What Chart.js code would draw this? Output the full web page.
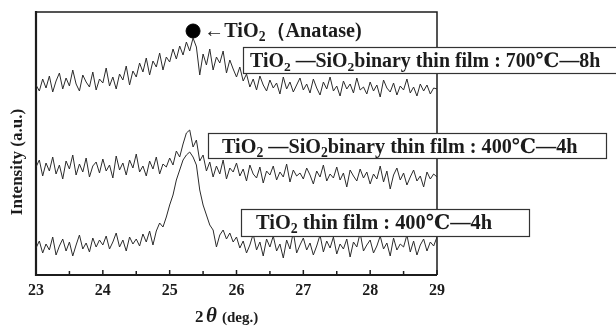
<!DOCTYPE html>
<html>
<head>
<meta charset="utf-8">
<script src="https://cdn.jsdelivr.net/npm/chart.js@4"></script>
<style>
  html, body { margin: 0; padding: 0; background: #fff; }
</style>
</head>
<body>
<canvas id="xrd" width="616" height="328"></canvas>
<script>
// 2theta grid: 23.00 .. 29.00, step 0.05 (121 points)
const xStart = 23;
const xStep = 0.05;
const xTicks = [23, 24, 25, 26, 27, 28, 29];
const xMinorTicks = [23.5, 24.5, 25.5, 26.5, 27.5, 28.5];

// TiO2-SiO2 binary thin film : 700C-8h
const film700 = [
  190,184,196,187,199,183,194,202,186,197,189,205,191,184,200,193,188,203,185,196,
  192,207,189,198,186,201,195,209,190,204,
  198,212,203,217,200,214,208,222,205,218,
  213,226,216,229,220,233,224,237,228,200,
  221,210,226,205,218,212,224,202,215,206,
  198,208,194,201,188,196,185,199,190,184,
  195,187,192,181,198,186,193,183,190,197,
  185,191,182,196,187,180,193,186,198,184,
  189,179,194,186,191,182,197,185,188,181,
  193,184,190,178,195,187,183,192,180,189,
  185,196,182,188,179,191,184,190,181,187,186
];

// TiO2-SiO2 binary thin film : 400C-4h
const film400 = [
  108,115,99,112,104,118,101,110,96,114,106,120,100,111,103,117,98,109,113,102,
  116,104,110,97,119,105,112,100,115,107,
  121,103,109,99,114,106,118,101,111,108,
  117,110,124,118,131,142,145,128,135,114,
  120,104,113,98,109,101,115,96,107,103,
  112,99,106,94,110,101,97,108,92,104,
  100,109,95,103,98,111,93,105,99,102,
  96,107,100,91,104,98,110,94,101,97,
  108,95,102,88,105,99,94,106,97,103,
  91,101,96,109,93,104,86,100,107,95,
  102,90,98,105,94,99,88,103,96,101,98
];

// TiO2 thin film : 400C-4h
const tio2 = [
  27,34,22,31,25,38,20,29,36,24,33,19,30,40,26,32,23,37,28,35,
  30,39,26,33,42,28,35,24,38,31,
  36,29,41,33,44,30,44,52,48,58,
  70,80,95,105,115,120,123,118,110,85,
  70,60,50,45,28,40,45,36,42,33,
  38,27,34,22,30,41,25,33,19,36,
  28,39,24,31,17,35,26,43,22,30,
  37,25,32,20,29,40,23,34,27,38,
  21,31,26,36,18,33,28,42,24,30,
  35,22,29,39,26,32,19,37,25,31,
  28,40,23,34,20,30,36,24,33,29,38
];

// anatase peak marker
const anataseX = [25.35];
const anataseY = [244];

const SERIF = '"Liberation Serif", "DejaVu Serif", serif';
const INK = '#1c1c1c';

function toPoints(values) {
  return values.map((v, i) => ({ x: +(xStart + i * xStep).toFixed(2), y: v }));
}

// text with subscripts
function fontFor(r, size) {
  const s = r.sub ? size * 0.68 : size;
  return (r.italic ? 'italic ' : '') + 'bold ' + s.toFixed(1) + 'px ' + SERIF;
}
function runsWidth(ctx, runs, size) {
  let w = 0;
  runs.forEach(r => { ctx.font = fontFor(r, size); w += ctx.measureText(r.t).width; });
  return w;
}
function drawRuns(ctx, runs, x, y, size) {
  runs.forEach(r => {
    ctx.font = fontFor(r, size);
    ctx.fillText(r.t, x, r.sub ? y + size * 0.22 : y);
    x += ctx.measureText(r.t).width;
  });
}
function fitSize(ctx, runs, target) {
  return 20 * target / runsWidth(ctx, runs, 20);
}

const labelBoxes = [
  { box: [243, 47, 380, 26], text: [250, 67], width: 350,
    runs: [{ t: 'TiO' }, { t: '2', sub: true }, { t: ' \u2014SiO' }, { t: '2', sub: true }, { t: 'binary thin film : 700\u2103\u20148h' }] },
  { box: [208, 133, 398, 25], text: [222, 153], width: 355,
    runs: [{ t: 'TiO' }, { t: '2', sub: true }, { t: ' \u2014SiO' }, { t: '2', sub: true }, { t: 'binary thin film : 400\u2103\u20144h' }] },
  { box: [241, 209, 288, 27], text: [256, 229], width: 236,
    runs: [{ t: 'TiO' }, { t: '2', sub: true }, { t: ' thin film : 400\u2103\u20144h' }] }
];

const framePlugin = {
  id: 'frame',
  beforeDatasetsDraw(chart) {
    const { ctx, chartArea: a, scales } = chart;
    ctx.save();
    ctx.strokeStyle = INK;
    ctx.lineWidth = 1.5;
    ctx.beginPath();
    ctx.moveTo(a.left, a.top); ctx.lineTo(a.right, a.top); ctx.lineTo(a.right, a.bottom);
    ctx.stroke();
    ctx.lineWidth = 2.2;
    ctx.beginPath();
    ctx.moveTo(a.left, a.top - 1); ctx.lineTo(a.left, a.bottom); ctx.lineTo(a.right, a.bottom);
    ctx.stroke();
    // inward ticks
    ctx.lineWidth = 1.5;
    xTicks.concat(xMinorTicks).forEach(v => {
      const px = scales.x.getPixelForValue(v);
      const len = xTicks.includes(v) ? 5 : 4;
      ctx.beginPath();
      ctx.moveTo(px, a.bottom); ctx.lineTo(px, a.bottom - len);
      ctx.stroke();
    });
    ctx.restore();
  },
  afterDatasetsDraw(chart) {
    const { ctx } = chart;
    ctx.save();
    ctx.textBaseline = 'alphabetic';
    labelBoxes.forEach(l => {
      const [bx, by, bw, bh] = l.box;
      ctx.fillStyle = '#fff';
      ctx.fillRect(bx, by, bw, bh);
      ctx.strokeStyle = '#333';
      ctx.lineWidth = 1.2;
      ctx.strokeRect(bx + 0.5, by + 0.5, bw, bh);
      ctx.fillStyle = INK;
      drawRuns(ctx, l.runs, l.text[0], l.text[1], fitSize(ctx, l.runs, l.width));
    });
    // anatase annotation
    const px = chart.scales.x.getPixelForValue(anataseX[0]);
    const py = chart.scales.y.getPixelForValue(anataseY[0]);
    const arrowRuns = [{ t: '\u2190TiO' }, { t: '2', sub: true }, { t: '\uFF08Anatase)' }];
    drawRuns(ctx, arrowRuns, px + 11, py + 6, fitSize(ctx, arrowRuns, 158));
    // x axis title: 2θ (deg.)
    ctx.font = 'bold 17px ' + SERIF;
    ctx.fillText('2', 195, 322);
    ctx.font = 'italic bold 21px ' + SERIF;
    ctx.fillText('\u03B8', 206, 322);
    ctx.font = 'bold 15px ' + SERIF;
    ctx.fillText('(deg.)', 222, 322);
    // y axis title
    ctx.translate(18, 162);
    ctx.rotate(-Math.PI / 2);
    ctx.textAlign = 'center';
    ctx.textBaseline = 'middle';
    ctx.font = 'bold 17px ' + SERIF;
    ctx.fillText('Intensity (a.u.)', 0, 0);
    ctx.restore();
  }
};

new Chart(document.getElementById('xrd').getContext('2d'), {
  type: 'line',
  data: {
    datasets: [
      { data: toPoints(film700), borderColor: '#2b2b2b', borderWidth: 1, pointRadius: 0, tension: 0 },
      { data: toPoints(film400), borderColor: '#2b2b2b', borderWidth: 1, pointRadius: 0, tension: 0 },
      { data: toPoints(tio2), borderColor: '#2b2b2b', borderWidth: 1, pointRadius: 0, tension: 0 },
      { type: 'scatter', data: anataseX.map((x, i) => ({ x: x, y: anataseY[i] })),
        pointRadius: 7, backgroundColor: '#000', borderColor: '#000' }
    ]
  },
  options: {
    responsive: false,
    animation: false,
    devicePixelRatio: 1,
    layout: { padding: { left: 0, top: 12, right: 179, bottom: 0 } },
    plugins: { legend: { display: false }, tooltip: { enabled: false } },
    scales: {
      x: {
        type: 'linear', min: 23, max: 29,
        afterBuildTicks: s => { s.ticks = xTicks.map(v => ({ value: v })); },
        afterFit: s => { s.height = 53; },
        ticks: { color: INK, padding: 6, maxRotation: 0, font: { family: SERIF, size: 16, weight: 'bold' } },
        grid: { display: false, drawTicks: false },
        border: { display: false }
      },
      y: {
        min: 0, max: 263,
        afterFit: s => { s.width = 36; },
        ticks: { display: false },
        grid: { display: false, drawTicks: false },
        border: { display: false },
        title: { display: false }
      }
    }
  },
  plugins: [framePlugin]
});
</script>
</body>
</html>
